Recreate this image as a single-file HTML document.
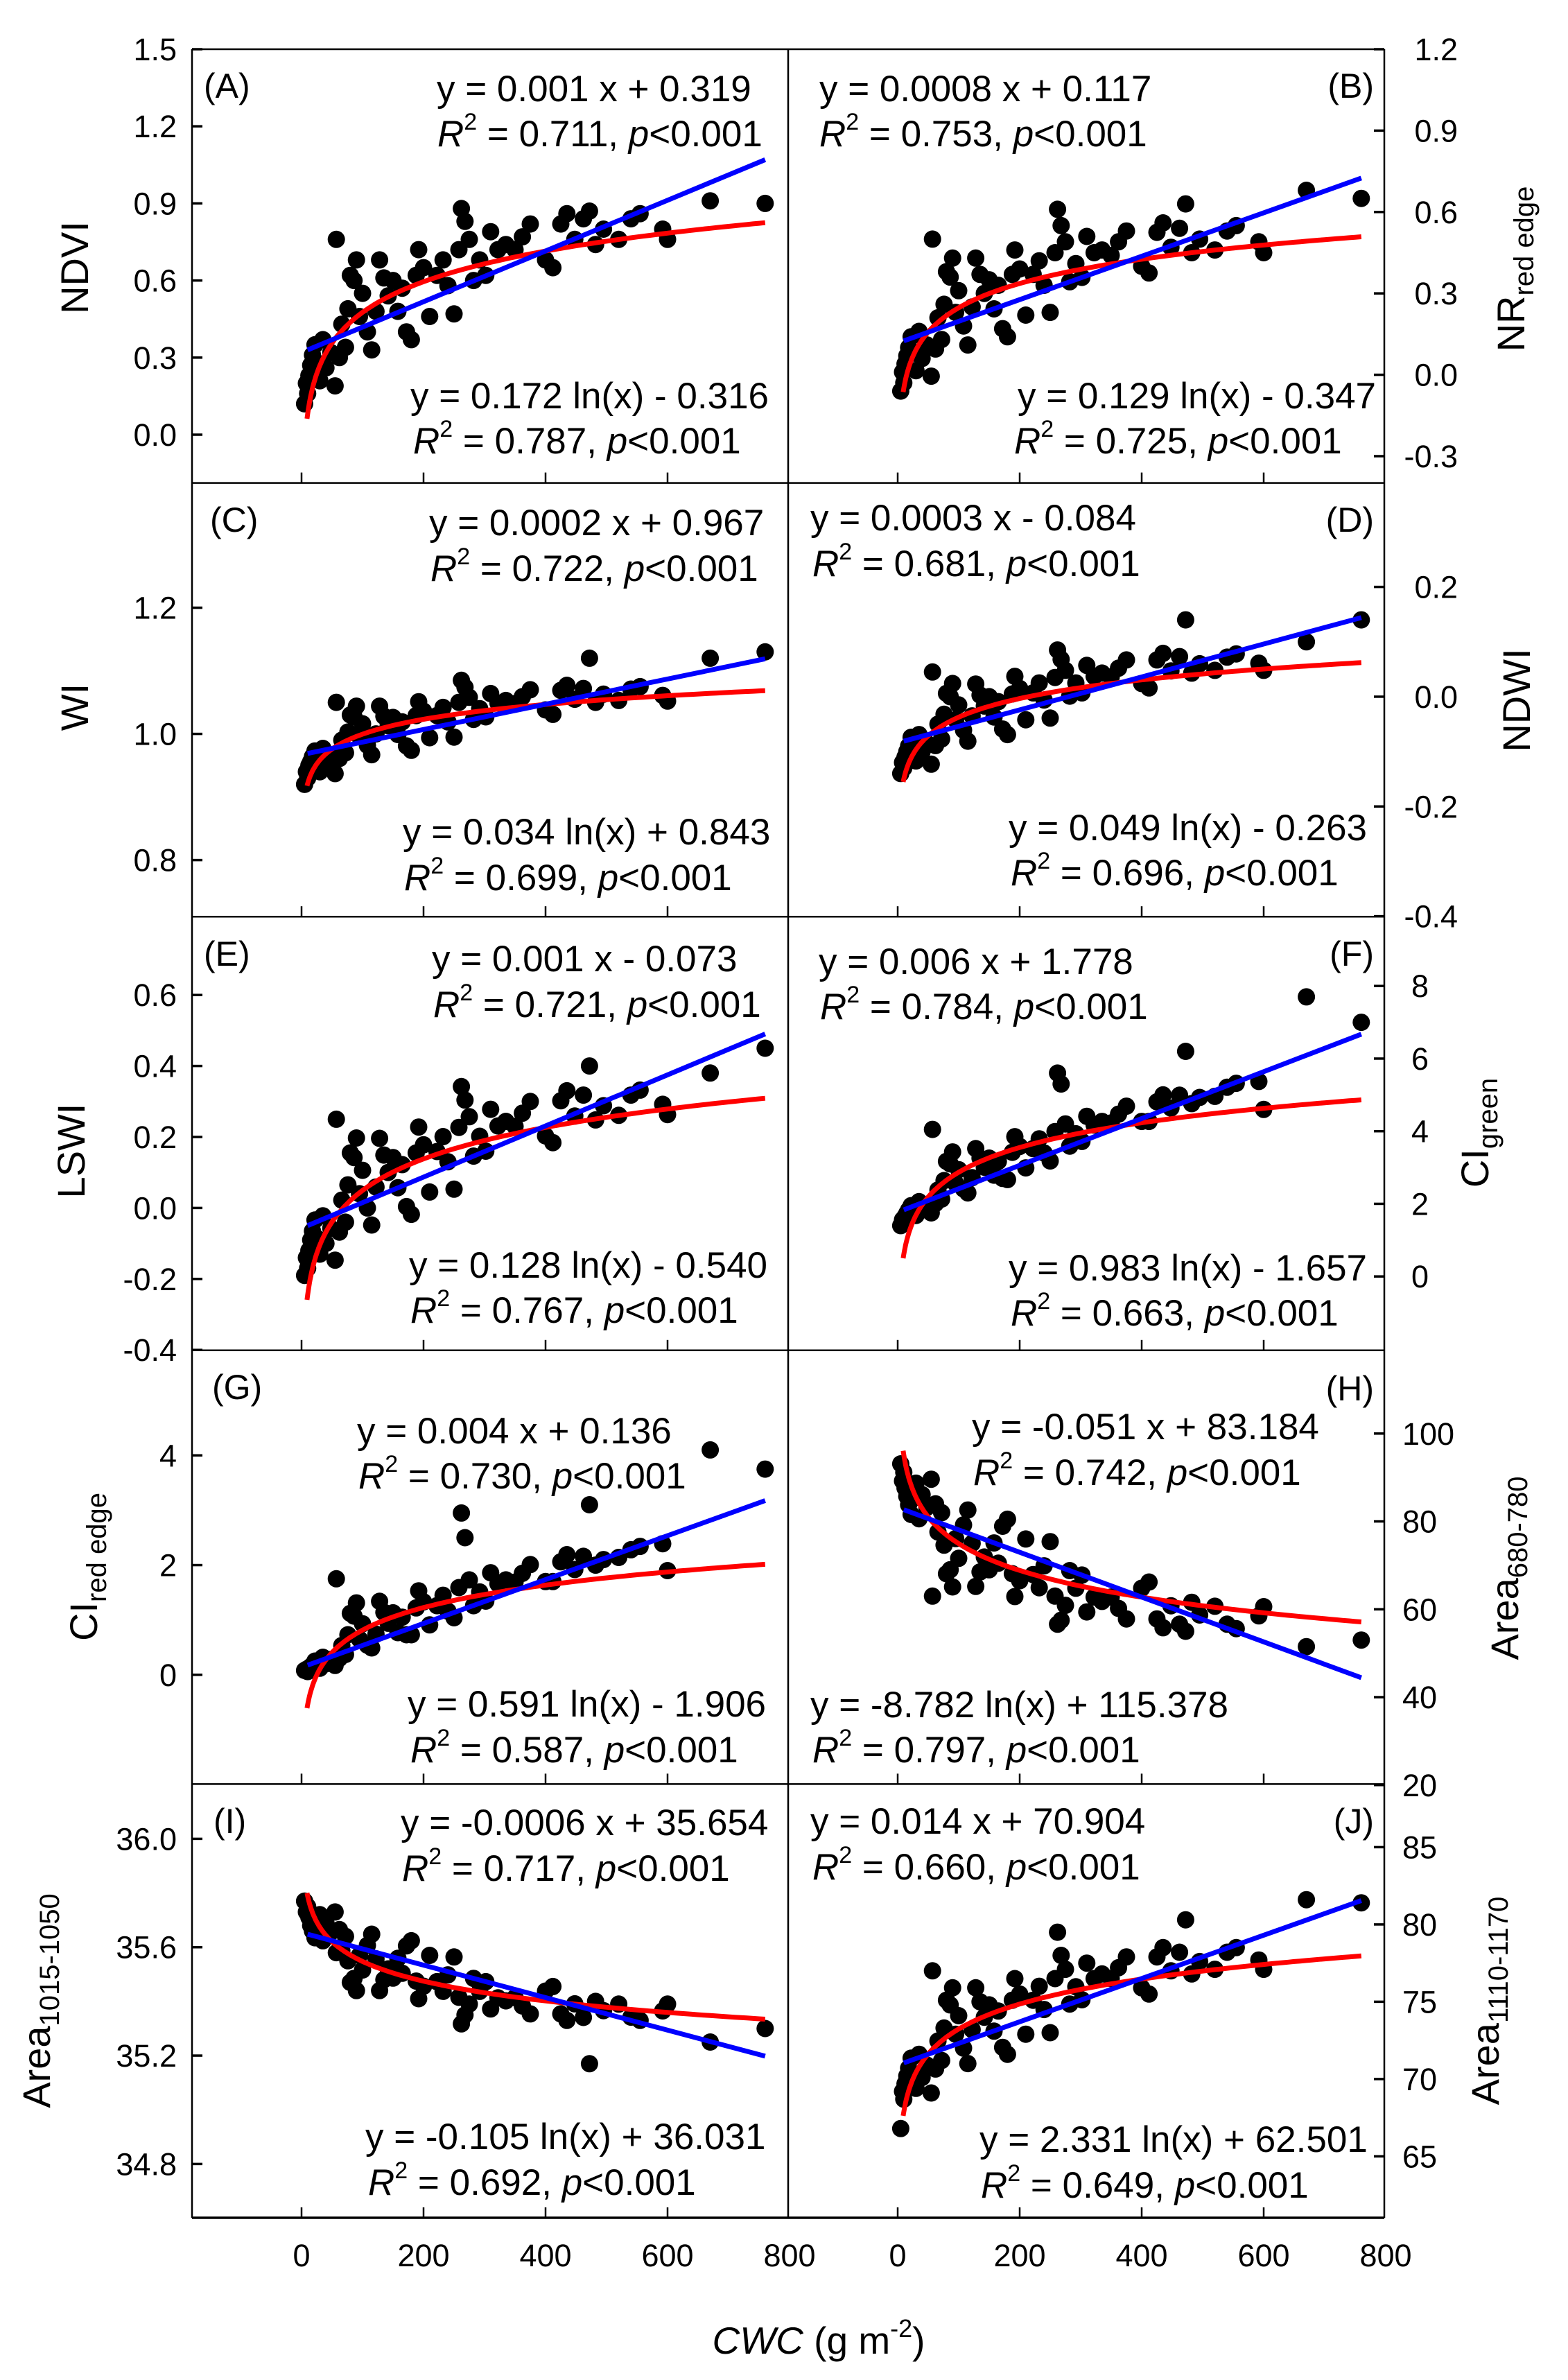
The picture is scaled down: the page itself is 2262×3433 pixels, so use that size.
<!DOCTYPE html>
<html><head><meta charset="utf-8"><title>CWC vs spectral indices</title>
<style>
html,body{margin:0;padding:0;background:#fff;}
svg{display:block;font-family:"Liberation Sans",Arial,sans-serif;}
</style></head>
<body>
<svg id="chart" width="2262" height="3433" viewBox="0 0 2262 3433" xmlns="http://www.w3.org/2000/svg">
<rect x="0" y="0" width="2262" height="3433" fill="#fff"/>
<defs id="defs"></defs>
<g id="marks"></g>
<g id="axes" stroke="#000" fill="none"></g>
<g id="labels" font-size="45" fill="#000"></g>

<g font-size="50" fill="#000">
<text x="294" y="141">(A)</text>
<text x="1982" y="141" text-anchor="end">(B)</text>
<text x="303" y="767">(C)</text>
<text x="1982" y="767" text-anchor="end">(D)</text>
<text x="294" y="1393">(E)</text>
<text x="1982" y="1393" text-anchor="end">(F)</text>
<text x="306" y="2018">(G)</text>
<text x="1982" y="2020" text-anchor="end">(H)</text>
<text x="308" y="2644">(I)</text>
<text x="1982" y="2644" text-anchor="end">(J)</text>
</g>

<g font-size="53" fill="#000">
<text x="630" y="146">y = 0.001 x + 0.319</text>
<text x="631" y="211"><tspan font-style="italic">R</tspan><tspan font-size="34" dy="-24">2</tspan><tspan dy="24"> = 0.711, </tspan><tspan font-style="italic">p</tspan>&lt;0.001</text>
<text x="592" y="589">y = 0.172 ln(x) - 0.316</text>
<text x="596" y="654"><tspan font-style="italic">R</tspan><tspan font-size="34" dy="-24">2</tspan><tspan dy="24"> = 0.787, </tspan><tspan font-style="italic">p</tspan>&lt;0.001</text>

<text x="1182" y="146">y = 0.0008 x + 0.117</text>
<text x="1182" y="211"><tspan font-style="italic">R</tspan><tspan font-size="34" dy="-24">2</tspan><tspan dy="24"> = 0.753, </tspan><tspan font-style="italic">p</tspan>&lt;0.001</text>
<text x="1468" y="589">y = 0.129 ln(x) - 0.347</text>
<text x="1463" y="654"><tspan font-style="italic">R</tspan><tspan font-size="34" dy="-24">2</tspan><tspan dy="24"> = 0.725, </tspan><tspan font-style="italic">p</tspan>&lt;0.001</text>

<text x="619" y="772">y = 0.0002 x + 0.967</text>
<text x="621" y="838"><tspan font-style="italic">R</tspan><tspan font-size="34" dy="-24">2</tspan><tspan dy="24"> = 0.722, </tspan><tspan font-style="italic">p</tspan>&lt;0.001</text>
<text x="581" y="1218">y = 0.034 ln(x) + 0.843</text>
<text x="583" y="1284"><tspan font-style="italic">R</tspan><tspan font-size="34" dy="-24">2</tspan><tspan dy="24"> = 0.699, </tspan><tspan font-style="italic">p</tspan>&lt;0.001</text>

<text x="1169" y="765">y = 0.0003 x - 0.084</text>
<text x="1172" y="831"><tspan font-style="italic">R</tspan><tspan font-size="34" dy="-24">2</tspan><tspan dy="24"> = 0.681, </tspan><tspan font-style="italic">p</tspan>&lt;0.001</text>
<text x="1455" y="1212">y = 0.049 ln(x) - 0.263</text>
<text x="1458" y="1277"><tspan font-style="italic">R</tspan><tspan font-size="34" dy="-24">2</tspan><tspan dy="24"> = 0.696, </tspan><tspan font-style="italic">p</tspan>&lt;0.001</text>

<text x="623" y="1401">y = 0.001 x - 0.073</text>
<text x="625" y="1467"><tspan font-style="italic">R</tspan><tspan font-size="34" dy="-24">2</tspan><tspan dy="24"> = 0.721, </tspan><tspan font-style="italic">p</tspan>&lt;0.001</text>
<text x="590" y="1843">y = 0.128 ln(x) - 0.540</text>
<text x="592" y="1908"><tspan font-style="italic">R</tspan><tspan font-size="34" dy="-24">2</tspan><tspan dy="24"> = 0.767, </tspan><tspan font-style="italic">p</tspan>&lt;0.001</text>

<text x="1181" y="1405">y = 0.006 x + 1.778</text>
<text x="1183" y="1470"><tspan font-style="italic">R</tspan><tspan font-size="34" dy="-24">2</tspan><tspan dy="24"> = 0.784, </tspan><tspan font-style="italic">p</tspan>&lt;0.001</text>
<text x="1455" y="1847">y = 0.983 ln(x) - 1.657</text>
<text x="1458" y="1912"><tspan font-style="italic">R</tspan><tspan font-size="34" dy="-24">2</tspan><tspan dy="24"> = 0.663, </tspan><tspan font-style="italic">p</tspan>&lt;0.001</text>

<text x="515" y="2082">y = 0.004 x + 0.136</text>
<text x="517" y="2147"><tspan font-style="italic">R</tspan><tspan font-size="34" dy="-24">2</tspan><tspan dy="24"> = 0.730, </tspan><tspan font-style="italic">p</tspan>&lt;0.001</text>
<text x="588" y="2476">y = 0.591 ln(x) - 1.906</text>
<text x="592" y="2542"><tspan font-style="italic">R</tspan><tspan font-size="34" dy="-24">2</tspan><tspan dy="24"> = 0.587, </tspan><tspan font-style="italic">p</tspan>&lt;0.001</text>

<text x="1402" y="2076">y = -0.051 x + 83.184</text>
<text x="1404" y="2142"><tspan font-style="italic">R</tspan><tspan font-size="34" dy="-24">2</tspan><tspan dy="24"> = 0.742, </tspan><tspan font-style="italic">p</tspan>&lt;0.001</text>
<text x="1169" y="2477">y = -8.782 ln(x) + 115.378</text>
<text x="1172" y="2542"><tspan font-style="italic">R</tspan><tspan font-size="34" dy="-24">2</tspan><tspan dy="24"> = 0.797, </tspan><tspan font-style="italic">p</tspan>&lt;0.001</text>

<text x="578" y="2647">y = -0.0006 x + 35.654</text>
<text x="580" y="2713"><tspan font-style="italic">R</tspan><tspan font-size="34" dy="-24">2</tspan><tspan dy="24"> = 0.717, </tspan><tspan font-style="italic">p</tspan>&lt;0.001</text>
<text x="527" y="3100">y = -0.105 ln(x) + 36.031</text>
<text x="531" y="3166"><tspan font-style="italic">R</tspan><tspan font-size="34" dy="-24">2</tspan><tspan dy="24"> = 0.692, </tspan><tspan font-style="italic">p</tspan>&lt;0.001</text>

<text x="1169" y="2645">y = 0.014 x + 70.904</text>
<text x="1172" y="2711"><tspan font-style="italic">R</tspan><tspan font-size="34" dy="-24">2</tspan><tspan dy="24"> = 0.660, </tspan><tspan font-style="italic">p</tspan>&lt;0.001</text>
<text x="1413" y="3104">y = 2.331 ln(x) + 62.501</text>
<text x="1415" y="3170"><tspan font-style="italic">R</tspan><tspan font-size="34" dy="-24">2</tspan><tspan dy="24"> = 0.649, </tspan><tspan font-style="italic">p</tspan>&lt;0.001</text>
</g>

<g font-size="56" fill="#000" text-anchor="middle">
<text transform="translate(127,386) rotate(-90)">NDVI</text>
<text transform="translate(127,1020) rotate(-90)">WI</text>
<text transform="translate(122,1660) rotate(-90)">LSWI</text>
<text transform="translate(140,2260) rotate(-90)">CI<tspan font-size="40" dy="13">red edge</tspan></text>
<text transform="translate(72,2886) rotate(-90)">Area<tspan font-size="40" dy="13">1015-1050</tspan></text>
<text transform="translate(2199,388) rotate(-90)">NR<tspan font-size="40" dy="13">red edge</tspan></text>
<text transform="translate(2207,1010) rotate(-90)">NDWI</text>
<text transform="translate(2147,1634) rotate(-90)">CI<tspan font-size="40" dy="13">green</tspan></text>
<text transform="translate(2190,2262) rotate(-90)">Area<tspan font-size="40" dy="13">680-780</tspan></text>
<text transform="translate(2162,2886) rotate(-90)">Area<tspan font-size="40" dy="13">1110-1170</tspan></text>
<text x="1181" y="3395" font-size="55"><tspan font-style="italic">CWC</tspan> (g m<tspan font-size="36" dy="-24">-2</tspan><tspan dy="24">)</tspan></text>
</g>
</svg>

<script>
// ---- data (shared samples, CWC in g m-2) ----
const cwc = [5,8,10,12,15,18,22,25,30,35,40,48,55,57,62,66,72,76,80,86,90,95,100,108,115,122,128,135,142,150,158,165,172,180,188,192,200,210,222,232,240,250,258,262,268,275,282,292,302,310,322,335,350,362,375,400,412,425,435,448,462,472,482,495,520,540,555,592,600,670,760];
const ndvi = [.12,.20,.16,.23,.27,.31,.35,.28,.21,.37,.26,.32,.19,.76,.30,.43,.34,.49,.62,.60,.68,.46,.55,.40,.33,.48,.68,.61,.54,.60,.48,.57,.40,.37,.62,.72,.65,.46,.62,.68,.58,.47,.72,.88,.83,.76,.60,.68,.62,.79,.72,.74,.72,.77,.82,.68,.65,.82,.86,.76,.84,.87,.74,.80,.76,.84,.86,.80,.76,.91,.90];
const nrRedEdge = [-.06,.01,-.03,.04,.07,.10,.14,.08,.015,.16,.06,.11,-.005,.50,.095,.21,.13,.26,.38,.36,.43,.23,.31,.18,.11,.25,.43,.37,.30,.35,.243,.33,.17,.14,.37,.46,.39,.22,.37,.42,.33,.23,.45,.61,.55,.49,.343,.41,.359,.51,.45,.46,.44,.49,.53,.40,.375,.525,.56,.47,.54,.63,.45,.50,.46,.53,.55,.49,.45,.68,.65];
const wi = [.92,.94,.93,.95,.956,.964,.973,.958,.94,.977,.953,.966,.937,1.05,.961,.99,.97,1.003,1.03,1.027,1.044,.996,1.016,.982,.967,1.0,1.044,1.028,1.013,1.026,.999,1.019,.981,.974,1.029,1.051,1.036,.994,1.029,1.042,1.019,.995,1.05,1.085,1.074,1.058,1.023,1.04,1.027,1.064,1.049,1.053,1.048,1.059,1.07,1.038,1.031,1.069,1.077,1.055,1.072,1.12,1.05,1.063,1.053,1.071,1.075,1.061,1.052,1.12,1.13];
const ndwi = [-.14,-.12,-.13,-.11,-.10,-.09,-.074,-.096,-.117,-.069,-.10,-.085,-.123,.045,-.089,-.05,-.077,-.032,.006,0,.024,-.042,-.015,-.061,-.081,-.035,.023,.003,-.017,0,-.037,-.009,-.059,-.069,.005,.037,.015,-.042,.007,.025,-.006,-.039,.035,.085,.068,.048,.001,.025,.007,.057,.037,.043,.036,.052,.067,.024,.016,.067,.079,.047,.073,.14,.043,.06,.048,.072,.078,.061,.048,.10,.14];
const lswi = [-.19,-.14,-.17,-.12,-.09,-.065,-.034,-.085,-.13,-.022,-.10,-.057,-.147,.25,-.068,.022,-.04,.065,.155,.142,.197,.04,.106,0,-.048,.059,.196,.149,.10,.142,.057,.122,.004,-.018,.155,.228,.178,.045,.159,.201,.13,.053,.227,.342,.304,.257,.146,.202,.16,.278,.231,.244,.23,.267,.30,.203,.184,.302,.33,.259,.318,.40,.248,.288,.261,.318,.332,.292,.263,.38,.45];
const ciGreen = [1.4,1.56,1.49,1.65,1.74,1.83,1.95,1.80,1.68,2.06,1.83,1.98,1.75,4.05,2.01,2.38,2.13,2.64,3.17,3.10,3.43,2.56,2.94,2.41,2.30,2.72,3.52,3.26,3.01,3.26,2.79,3.17,2.70,2.67,3.42,3.85,3.58,2.99,3.52,3.79,3.40,3.18,3.99,5.6,5.3,4.20,3.59,3.93,3.72,4.41,4.17,4.27,4.23,4.47,4.69,4.27,4.27,4.81,5.0,4.64,4.99,6.2,4.76,4.93,4.96,5.21,5.32,5.37,4.6,7.7,7.0];
const ciRedEdge = [.08,.1,.06,.12,.15,.18,.25,.17,.12,.32,.2,.28,.17,1.75,.30,.535,.37,.73,1.12,1.07,1.31,.65,.93,.54,.49,.74,1.34,1.14,.94,1.13,.768,1.05,.73,.73,1.22,1.53,1.33,.91,1.26,1.45,1.16,1.04,1.59,2.95,2.5,1.73,1.26,1.51,1.344,1.86,1.66,1.73,1.69,1.85,2.01,1.70,1.70,2.06,2.19,1.92,2.16,3.1,2.0,2.10,2.14,2.28,2.34,2.39,1.9,4.1,3.75];
const area680 = [93.1,89.2,91.2,87.6,85.7,83.8,81.6,85.2,88.7,80.6,86.1,83.2,89.6,63,84.0,77.6,82.0,74.6,68.1,69.0,65.1,76.1,71.6,79.2,82.6,75.0,65.2,68.5,71.9,69.0,75.1,70.5,78.9,80.5,68.1,62.9,66.5,76.0,67.9,64.9,69.9,75.4,63.0,56.6,57.5,60.9,68.8,64.8,67.8,59.4,62.8,61.8,62.8,60.2,57.8,64.8,66.2,57.8,55.8,60.8,56.6,55,61.6,58.7,60.7,56.6,55.6,58.5,60.6,51.5,53];
const area1015 = [35.77,35.73,35.75,35.71,35.68,35.66,35.635,35.68,35.72,35.624,35.69,35.655,35.73,35.58,35.665,35.587,35.64,35.55,35.47,35.485,35.44,35.57,35.516,35.607,35.648,35.557,35.44,35.48,35.52,35.486,35.559,35.504,35.605,35.624,35.475,35.41,35.456,35.57,35.473,35.437,35.498,35.564,35.415,35.317,35.35,35.39,35.485,35.437,35.473,35.372,35.413,35.402,35.414,35.383,35.354,35.438,35.455,35.354,35.33,35.391,35.341,35.17,35.40,35.366,35.39,35.342,35.33,35.365,35.39,35.25,35.3];
const area1110 = [66.8,69.2,68.7,69.7,70.2,70.7,71.35,70.3,69.4,71.6,70.1,70.9,69.1,77.0,70.65,72.46,71.2,73.3,75.1,74.8,75.9,72.9,74.1,72.0,71.0,73.2,75.9,75.0,74.0,74.8,73.1,74.4,72.05,71.6,75.1,76.5,75.5,72.9,75.1,76.0,74.5,73.0,76.5,79.5,78.0,77.1,74.85,75.97,75.13,77.5,76.5,76.8,76.5,77.2,77.9,75.9,75.5,77.9,78.5,77.0,78.2,80.3,76.8,77.6,77.1,78.2,78.5,77.7,77.1,81.6,81.4];

// ---- fit coefficients (A..J) ----
const linSlope = [0.000987,0.0008,0.0002,0.0003,0.00072,0.00645,0.004,-0.051,-0.0006,0.014];
const linIntercept = [0.32,0.117,0.967,-0.084,-0.057,1.77,0.136,83.184,35.654,70.904];
const logCoef = [0.172,0.129,0.034,0.049,0.128,0.983,0.591,-8.782,-0.105,2.331];
const logConst = [-0.316,-0.347,0.843,-0.263,-0.540,-1.657,-1.906,115.378,36.031,62.501];
const fitRange = [10,760];

// ---- tick values / labels ----
const xTicks = [0,200,400,600,800];
const xTickLabels = ["0","200","400","600","800"];
const ticksA = [0,0.3,0.6,0.9,1.2,1.5]; const labelsA = ["0.0","0.3","0.6","0.9","1.2","1.5"];
const ticksB = [-0.3,0,0.3,0.6,0.9,1.2]; const labelsB = ["-0.3","0.0","0.3","0.6","0.9","1.2"];
const ticksC = [0.8,1.0,1.2]; const labelsC = ["0.8","1.0","1.2"];
const ticksD = [-0.4,-0.2,0,0.2]; const labelsD = ["-0.4","-0.2","0.0","0.2"];
const ticksE = [-0.4,-0.2,0,0.2,0.4,0.6]; const labelsE = ["-0.4","-0.2","0.0","0.2","0.4","0.6"];
const ticksF = [0,2,4,6,8]; const labelsF = ["0","2","4","6","8"];
const ticksG = [0,2,4]; const labelsG = ["0","2","4"];
const ticksH = [20,40,60,80,100]; const labelsH = ["20","40","60","80","100"];
const ticksI = [34.8,35.2,35.6,36.0]; const labelsI = ["34.8","35.2","35.6","36.0"];
const ticksJ = [65,70,75,80,85]; const labelsJ = ["65","70","75","80","85"];

// ---- layout ----
const NS = "http://www.w3.org/2000/svg";
const LEFT = 277, MID = 1137, RIGHT = 1997, TOP = 71, ROWH = 625.6, COLW = 860;
const panels = [
 {k:"a", col:0,row:0, ys:[1.5,0,0,556], data:ndvi, ticks:ticksA, labs:labelsA, anchor:"end", lx:255},
 {k:"b", col:1,row:0, ys:[1.2,0,-0.3,587], data:nrRedEdge, ticks:ticksB, labs:labelsB, anchor:"end", lx:2103},
 {k:"c", col:0,row:1, ys:[1.2,180,0.8,544], data:wi, ticks:ticksC, labs:labelsC, anchor:"end", lx:255},
 {k:"d", col:1,row:1, ys:[0.2,150,-0.4,625], data:ndwi, ticks:ticksD, labs:labelsD, anchor:"end", lx:2103},
 {k:"e", col:0,row:2, ys:[0.6,113,-0.4,625], data:lswi, ticks:ticksE, labs:labelsE, anchor:"end", lx:255},
 {k:"f", col:1,row:2, ys:[8,100,0,519], data:ciGreen, ticks:ticksF, labs:labelsF, anchor:"start", lx:2036},
 {k:"g", col:0,row:3, ys:[4,151.5,0,468], data:ciRedEdge, ticks:ticksG, labs:labelsG, anchor:"end", lx:255},
 {k:"h", col:1,row:3, ys:[100,120,20,627], data:area680, ticks:ticksH, labs:labelsH, anchor:"start", lx:2023},
 {k:"i", col:0,row:4, ys:[36.0,79,34.8,548], data:area1015, ticks:ticksI, labs:labelsI, anchor:"end", lx:255},
 {k:"j", col:1,row:4, ys:[85,91,65,537], data:area1110, ticks:ticksJ, labs:labelsJ, anchor:"start", lx:2023}
];

const marks = document.getElementById('marks');
const axes = document.getElementById('axes');
const labels = document.getElementById('labels');
const defs = document.getElementById('defs');

function mk(tag, attrs, parent){
  const e = document.createElementNS(NS, tag);
  for (const a in attrs) e.setAttribute(a, attrs[a]);
  parent.appendChild(e);
  return e;
}

panels.forEach((p, pi) => {
  const x0 = p.col === 0 ? LEFT : MID;
  const top = TOP + p.row * ROWH;
  const xs = v => x0 + 158 + v * 0.88;
  const ys = v => top + p.ys[1] + (v - p.ys[0]) * (p.ys[3] - p.ys[1]) / (p.ys[2] - p.ys[0]);

  const cp = mk('clipPath', {id:'clip-' + p.k}, defs);
  mk('rect', {x:x0, y:top, width:COLW, height:ROWH}, cp);

  const g = mk('g', {'clip-path':'url(#clip-' + p.k + ')'}, marks);
  
  

  p.data.forEach((v, i) => {
    const c = mk('circle', {cx:xs(cwc[i]).toFixed(1), cy:ys(v).toFixed(1), r:12.5, fill:'#000'}, g);
    
    
  });

  let d = '';
  for (let x = 9; x <= fitRange[1]; x += (x < 60 ? 1 : 10)) {
    const y = logCoef[pi] * Math.log(x) + logConst[pi];
    d += (d ? 'L' : 'M') + xs(x).toFixed(1) + ',' + ys(y).toFixed(1);
  }
  const lr = mk('path', {d:d, stroke:'#ff0000', 'stroke-width':7, fill:'none'}, g);
  
  

  const lb = mk('line', {x1:xs(fitRange[0]), y1:ys(linSlope[pi]*fitRange[0]+linIntercept[pi]),
    x2:xs(fitRange[1]), y2:ys(linSlope[pi]*fitRange[1]+linIntercept[pi]), stroke:'#0000ff', 'stroke-width':7}, g);
  
  

  const left = p.col === 0;
  p.ticks.forEach((t, i) => {
    const y = ys(t);
    const tk = mk('line', {x1: left ? LEFT : RIGHT, x2: left ? LEFT + 15 : RIGHT - 15, y1:y, y2:y, 'stroke-width':3.5}, axes);
    
    
    const tl = mk('text', {x:p.lx, y:(y + 16).toFixed(1), 'text-anchor':p.anchor}, labels);
    tl.textContent = p.labs[i];
    
    
  });

  xTicks.forEach((t, i) => {
    if (t >= 800) return;
    const x = xs(t);
    const tk = mk('line', {x1:x, x2:x, y1:top + ROWH, y2:top + ROWH - 15, 'stroke-width':2.5}, axes);
    
    
  });
  if (p.row === 4) {
    xTicks.forEach((t, i) => {
      const tl = mk('text', {x:xs(t).toFixed(1), y:3269, 'text-anchor':'middle'}, labels);
      tl.textContent = xTickLabels[i];
      
      
    });
  }
});

for (let r = 0; r <= 5; r++) {
  const y = TOP + r * ROWH;
  const ln = mk('line', {x1:LEFT, x2:RIGHT, y1:y, y2:y, 'stroke-width': r === 5 ? 3.5 : 2.5}, axes);
  
  
}
[LEFT, MID, RIGHT].forEach(x => {
  const ln = mk('line', {x1:x, x2:x, y1:TOP, y2:TOP + 5 * ROWH, 'stroke-width':2.5}, axes);
  
  
});
</script>
</body></html>
